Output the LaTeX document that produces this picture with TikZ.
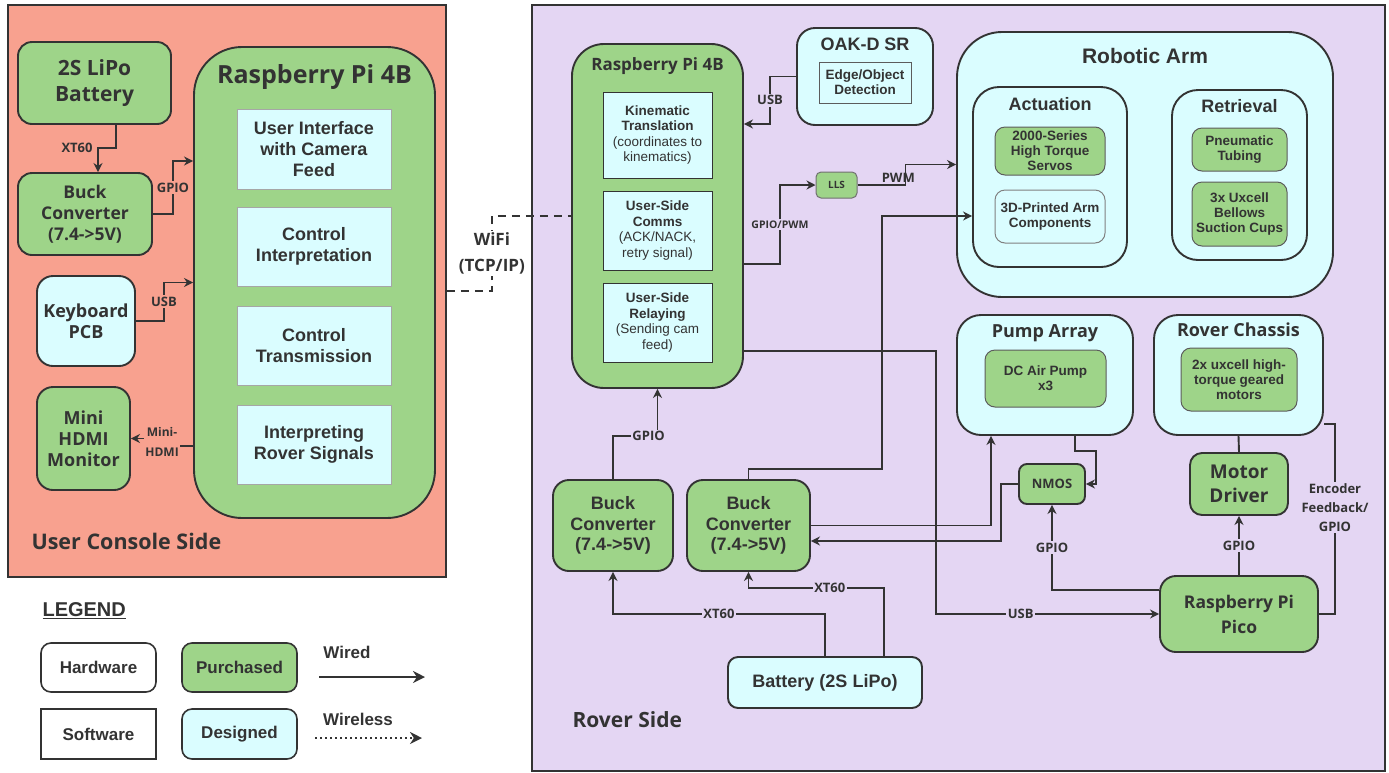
\documentclass[tikz,border=0pt]{standalone}
\usepackage{fontspec}
\setmainfont{Liberation Sans}
\newfontfamily\osans{Open Sans}
\usetikzlibrary{arrows.meta}
\definecolor{salmon}{RGB}{248,161,143}
\definecolor{lavender}{RGB}{228,214,243}
\definecolor{leaf}{RGB}{158,212,137}
\definecolor{ice}{RGB}{218,253,255}
\definecolor{ink}{RGB}{51,51,51}
\newcommand\fsz[2]{\fontsize{#1}{#2}\selectfont}

\begin{document}
\begin{tikzpicture}[x=1pt,y=-1pt,
  panel/.style={draw=ink,line width=1.8pt},
  buy/.style={draw=ink,line width=1.9pt,fill=leaf,rounded corners=14pt,align=center,inner sep=1pt,text=ink},
  make/.style={buy,fill=ice},
  soft/.style={draw=gray!70,line width=0.9pt,fill=ice,align=center,inner sep=1pt,text=ink},
  part/.style={draw=ink!80,line width=1pt,fill=leaf,rounded corners=10pt,align=center,inner sep=1pt,text=ink,font=\bfseries\fsz{13.5}{15}},
  headline/.style={text=ink,font=\bfseries\fsz{18}{20}},
  legbox/.style={draw=ink,line width=1.6pt,fill=white,minimum width=115,minimum height=49,text=ink,font=\bfseries\fsz{17}{20}},
  wire/.style={draw=ink,line width=1.9pt,-{Stealth[length=9pt,width=9pt]}},
  bare/.style={draw=ink,line width=1.9pt},
  lbl/.style={text=ink,font=\osans\bfseries\fsz{13}{15},inner sep=1.5pt,align=center}]
  \useasboundingbox (0,0) rectangle (1389,772);

  % user console side
  \node (console) [panel,fill=salmon,minimum width=438,minimum height=572] at (227,291) {};
  \node (lipo) [buy,minimum width=153,minimum height=82,font=\osans\bfseries\fsz{21}{26}] at (94.5,83) {2S LiPo\\Battery};
  \node (lbuck) [buy,minimum width=134,minimum height=82,font=\osans\bfseries\fsz{17.5}{21}] at (85,214) {Buck\\Converter\\(7.4->5V)};
  \node (keyb) [make,rounded corners=16pt,minimum width=98,minimum height=90,font=\osans\bfseries\fsz{18}{21}] at (86,321) {Keyboard\\PCB};
  \node (monitor) [buy,rounded corners=16pt,minimum width=93,minimum height=103,font=\osans\bfseries\fsz{18}{21}] at (83.5,438.5) {Mini\\HDMI\\Monitor};
  \node (lpi) [buy,rounded corners=48pt,minimum width=241,minimum height=471] at (314.5,282.5) {};
  \node (lpititle) [text=ink,font=\osans\bfseries\fsz{25}{28}] at (314.5,77) {Raspberry Pi 4B};
  \node (ui) [soft,minimum width=154,minimum height=80,font=\bfseries\fsz{18}{21}] at (314,149) {User Interface\\with Camera\\Feed};
  \node (ctrlint) [soft,minimum width=154,minimum height=79,font=\bfseries\fsz{18}{21}] at (314,246.5) {Control\\Interpretation};
  \node (ctrltx) [soft,minimum width=154,minimum height=79,font=\bfseries\fsz{18}{21}] at (314,345.5) {Control\\Transmission};
  \node (interp) [soft,minimum width=154,minimum height=79,font=\bfseries\fsz{18}{21}] at (314,444.5) {Interpreting\\Rover Signals};
  \node (consolelbl) [anchor=west,text=ink,font=\osans\bfseries\fsz{21.5}{24}] at (28,541) {User Console Side};

  \draw[wire] ([xshift=21.5pt]lipo.south) -- ++(0,23) -| ([xshift=13pt]lbuck.north) node[lbl,anchor=east,pos=0.5,xshift=-3pt] {XT60};
  \draw[wire] (lbuck.east) -- ++(20,0) |- ([yshift=121.5pt]lpi.west) node[lbl,fill=salmon,pos=0.25] {GPIO};
  \draw[wire] (keyb.east) -- ++(28,0) |- (lpi.west) node[lbl,fill=salmon,pos=0.25] {USB};
  \draw[wire] ([yshift=-163.5pt]lpi.west) -- ++(-31,0) |- (monitor.east) node[lbl,fill=salmon,pos=0.25,font=\osans\bfseries\fsz{12}{20}] {Mini-\\HDMI};

  % rover side
  \node (rover) [panel,fill=lavender,minimum width=853,minimum height=766] at (958.5,388) {};
  \node (rpi) [buy,rounded corners=32pt,minimum width=171,minimum height=344] at (657.5,216) {};
  \node (rpititle) [text=ink,font=\osans\bfseries\fsz{17}{19}] at (657.5,66) {Raspberry Pi 4B};
  \node (kin) [soft,draw=ink,minimum width=109,minimum height=86,font=\fsz{13.5}{15.5}] at (657.5,135) {\textbf{Kinematic}\\\textbf{Translation}\\(coordinates to\\kinematics)};
  \node (comms) [soft,draw=ink,minimum width=109,minimum height=79,font=\fsz{13.5}{15.5}] at (657.5,230.5) {\textbf{User-Side}\\\textbf{Comms}\\(ACK/NACK,\\retry signal)};
  \node (relay) [soft,draw=ink,minimum width=109,minimum height=79,font=\fsz{13.5}{15.5}] at (657.5,322.5) {\textbf{User-Side}\\\textbf{Relaying}\\(Sending cam\\feed)};
  \node (oak) [make,rounded corners=18pt,minimum width=136,minimum height=97] at (865,76.5) {};
  \node (oaktitle) [headline] at (865,44) {OAK-D SR};
  \node (edge) [soft,draw=ink!80,minimum width=92,minimum height=41,font=\bfseries\fsz{13.5}{15}] at (865,82.5) {Edge/Object\\Detection};
  \node (lls) [buy,rounded corners=5pt,line width=1pt,draw=ink!70,minimum width=41,minimum height=26,font=\osans\bfseries\fsz{10}{11}] at (836.5,185) {LLS};
  \node (arm) [make,rounded corners=45pt,minimum width=376,minimum height=265] at (1145,164.5) {};
  \node (armtitle) [headline,font=\bfseries\fsz{21}{23}] at (1145,56) {Robotic Arm};
  \node (act) [make,rounded corners=26pt,minimum width=154,minimum height=180] at (1050,177) {};
  \node (acttitle) [headline] at (1050,104) {Actuation};
  \node (servo) [part,minimum width=110,minimum height=48] at (1050,151) {2000-Series\\High Torque\\Servos};
  \node (printed) [part,fill=ice,draw=gray,minimum width=110,minimum height=53] at (1050,216.5) {3D-Printed Arm\\Components};
  \node (retr) [make,rounded corners=26pt,minimum width=135,minimum height=170] at (1239.5,175) {};
  \node (retrtitle) [headline] at (1239.5,106) {Retrieval};
  \node (tubing) [part,minimum width=95,minimum height=43] at (1239.5,149.5) {Pneumatic\\Tubing};
  \node (cups) [part,minimum width=95,minimum height=64] at (1239.5,214) {3x Uxcell\\Bellows\\Suction Cups};
  \node (pump) [make,rounded corners=24pt,minimum width=176,minimum height=120] at (1045,375) {};
  \node (pumptitle) [headline,font=\osans\bfseries\fsz{18}{20}] at (1045,333) {Pump Array};
  \node (airpump) [part,minimum width=121,minimum height=57] at (1045.5,378.5) {DC Air Pump\\x3};
  \node (chassis) [make,rounded corners=24pt,minimum width=169,minimum height=120] at (1238.5,375) {};
  \node (chassistitle) [headline,font=\osans\bfseries\fsz{18}{20}] at (1238.5,330) {Rover Chassis};
  \node (motors) [part,minimum width=116,minimum height=63] at (1239,379.5) {2x uxcell high-\\torque geared\\motors};
  \node (nmos) [buy,rounded corners=8pt,minimum width=66,minimum height=40,font=\osans\bfseries\fsz{13}{15}] at (1052,484) {NMOS};
  \node (mdrv) [buy,rounded corners=12pt,minimum width=98,minimum height=62,font=\osans\bfseries\fsz{19}{24}] at (1239,484) {Motor\\Driver};
  \node (pico) [buy,rounded corners=16pt,minimum width=158,minimum height=76,font=\osans\bfseries\fsz{17.5}{25}] at (1239,614) {Raspberry Pi\\Pico};
  \node (bucka) [buy,rounded corners=16pt,minimum width=120,minimum height=91,font=\bfseries\fsz{18}{20.5}] at (613,525.5) {Buck\\Converter\\(7.4->5V)};
  \node (buckb) [buy,rounded corners=16pt,minimum width=123,minimum height=91,font=\bfseries\fsz{18}{20.5}] at (748.5,525.5) {Buck\\Converter\\(7.4->5V)};
  \node (batt) [make,rounded corners=10pt,minimum width=194,minimum height=51,font=\bfseries\fsz{18}{20}] at (825,682.5) {Battery (2S LiPo)};
  \node (roverlbl) [anchor=west,text=ink,font=\osans\bfseries\fsz{21}{24}] at (569,720) {Rover Side};

  % wifi link
  \draw[draw=ink,line width=1.9pt,dash pattern=on 8pt off 6pt] (console.east) -- ++(45,0) |- (rpi.west) node[lbl,fill=white,pos=0.25,font=\osans\bfseries\fsz{17}{26}] {WiFi\\(TCP/IP)};

  % rover wiring
  \draw[wire] (oak.west) -- ++(-26,0) |- ([yshift=92pt]rpi.east) node[lbl,fill=lavender,pos=0.25] {USB};
  \draw[wire] ([yshift=-48pt]rpi.east) -- ++(36,0) |- (lls.west) node[lbl,fill=lavender,pos=0.25,font=\osans\bfseries\fsz{10.5}{12}] {GPIO/PWM};
  \draw[wire] (lls.east) -- node[lbl,anchor=south,pos=0.85] {PWM} ++(48,0) |- (arm.west);
  \draw[wire] (buckb.north) -- ++(0,-10) -- ++(133.5,0) |- ([yshift=-39pt]act.west);
  \draw[wire] ([yshift=-135pt]rpi.east) -- ++(192,0) |- (pico.west) node[lbl,fill=lavender,pos=0.69] {USB};
  \draw[wire] (bucka.north) |- ([yshift=-47pt]rpi.south) node[lbl,fill=lavender,pos=0.9] {GPIO} -- (rpi.south);
  \draw[wire] (batt.north) -- ++(0,-42) -| (bucka.south) node[lbl,fill=lavender,pos=0.25] {XT60};
  \draw[wire] ([xshift=59pt]batt.north) -- ++(0,-68) -| (buckb.south) node[lbl,fill=lavender,pos=0.2] {XT60};
  \draw[wire] (buckb.east) -| ([xshift=-54pt]pump.south);
  \draw[wire] (nmos.west) -- ++(-17,0) |- ([yshift=-15.5pt]buckb.east);
  \draw[wire] ([xshift=30pt]pump.south) -- ++(0,15) -- ++(21,0) |- (nmos.east);
  \draw[wire] ([yshift=24pt]pico.west) -| (nmos.south) node[lbl,fill=lavender,pos=0.75] {GPIO};
  \draw[bare] (mdrv.north) -- (chassis.south);
  \draw[wire] (pico.north) -- (mdrv.south) node[lbl,fill=lavender,midway] {GPIO};
  \draw[bare] (pico.east) -- ++(16,0) |- ([yshift=-49pt]chassis.east) node[lbl,fill=lavender,pos=0.28,font=\osans\bfseries\fsz{13}{19}] {Encoder\\Feedback/\\GPIO};

  % legend
  \node (legtitle) [anchor=west,text=ink,font=\bfseries\fsz{20}{22}] at (39,611) {\underline{LEGEND}};
  \node (hw) [legbox,rounded corners=10pt] at (98.5,667.5) {Hardware};
  \node (sw) [legbox,minimum height=50] at (98.5,734) {Software};
  \node (purch) [legbox,rounded corners=10pt,fill=leaf] at (239.5,667.5) {Purchased};
  \node (desig) [legbox,rounded corners=10pt,fill=ice,minimum height=50] at (239.5,734) {Designed};
  \node (wiredlbl) [text=ink,font=\bfseries\fsz{17}{20}] at (347,652) {Wired};
  \node (wirelesslbl) [text=ink,font=\bfseries\fsz{17}{20}] at (358,719) {Wireless};
  \coordinate (wireda) at (319,677);
  \coordinate (wiredb) at (425,677);
  \coordinate (wlessa) at (315,738);
  \coordinate (wlessb) at (422,738);
  \draw[wire,line width=2.6pt,-{Stealth[length=12pt,width=12pt]}] (wireda) -- (wiredb);
  \draw[wire,line width=2.4pt,dash pattern=on 2pt off 3pt,-{Stealth[length=12pt,width=12pt]}] (wlessa) -- (wlessb);
\end{tikzpicture}
\end{document}
